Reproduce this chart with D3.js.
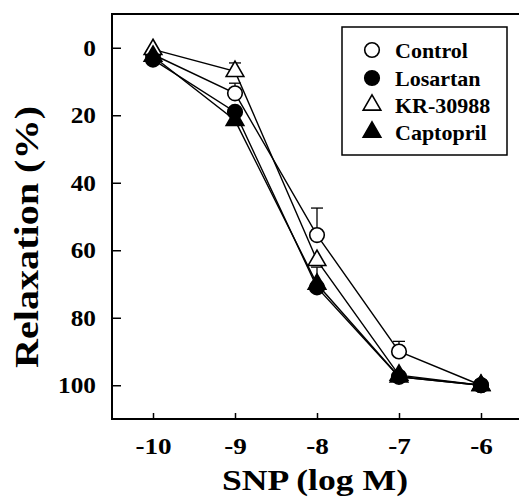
<!DOCTYPE html>
<html>
<head>
<meta charset="utf-8">
<script src="https://cdn.jsdelivr.net/npm/d3@7"></script>
<style>
  body { margin: 0; background: #fff; }
</style>
</head>
<body>
<div id="chart"></div>
<script>
// datos
const doses = [-10, -9, -8, -7, -6];
const xTicks = [-10, -9, -8, -7, -6];
const yTicks = [0, 20, 40, 60, 80, 100];

const controlVals = [2, 13.5, 55.5, 90, 100];
const controlErr = [0, 3, 8, 3, 0];
const losartanVals = [3.5, 19, 71, 97.5, 100];
const losartanErr = [0, 0, 6, 0, 0];
const krVals = [0.5, 7, 63, 97, 100];
const krErr = [0, 2.5, 0, 0, 0];
const captoprilVals = [2.5, 21.5, 70, 97.5, 100];
const captoprilErr = [0, 0, 0, 0, 0];

const seriesNames = ["Control", "Losartan", "KR-30988", "Captopril"];

const series = [
    { name: seriesNames[0], vals: controlVals, err: controlErr, shape: "circle", filled: false },
    { name: seriesNames[1], vals: losartanVals, err: losartanErr, shape: "circle", filled: true },
    { name: seriesNames[2], vals: krVals, err: krErr, shape: "triangle", filled: false },
    { name: seriesNames[3], vals: captoprilVals, err: captoprilErr, shape: "triangle", filled: true }
];

const FONT = "Liberation Serif";
const width = 519, height = 499;
const mLeft = 112, mTop = 14, mBottom = 419, mRight = 522;

const svg = d3.select("#chart").append("svg")
    .attr("width", width)
    .attr("height", height);

const x = d3.scaleLinear().domain([-10.5, -5.5]).range([mLeft, mRight]);
const y = d3.scaleLinear().domain([-10, 110]).range([mTop, mBottom]);

function estilo(sel, size) {
    sel.attr("font-family", FONT)
        .attr("font-weight", "bold")
        .attr("font-size", size)
        .attr("fill", "#000");
}

// estirar un texto a lo ancho (la figura original esta algo deformada)
function estirar(sel, k) {
    sel.each(function () {
        const w = this.getComputedTextLength();
        d3.select(this).attr("textLength", w * k).attr("lengthAdjust", "spacingAndGlyphs");
    });
}

// marco
svg.append("path")
    .attr("d", `M${width},${mTop}H${mLeft}V${mBottom}H${width}`)
    .attr("fill", "none")
    .attr("stroke", "#000")
    .attr("stroke-width", 2);

// ejes
const xAxis = d3.axisBottom(x).tickValues(xTicks).tickSize(-6).tickPadding(19)
    .tickFormat(d => d);
const gx = svg.append("g").attr("transform", `translate(0,${mBottom})`).call(xAxis);
gx.attr("font-family", FONT);
gx.select(".domain").remove();
gx.selectAll(".tick line").attr("stroke-width", 1.5);
gx.selectAll("text").call(estilo, 23).attr("dy", "0.71em").call(estirar, 1.18);

const yAxis = d3.axisLeft(y).tickValues(yTicks).tickSize(-9).tickPadding(16);
const gy = svg.append("g").attr("transform", `translate(${mLeft},0)`).call(yAxis);
gy.attr("font-family", FONT);
gy.select(".domain").remove();
gy.selectAll(".tick line").attr("stroke-width", 1.5);
gy.selectAll("text").call(estilo, 23).call(estirar, 1.1);

// titulos
svg.append("text")
    .attr("x", 315).attr("y", 490)
    .attr("text-anchor", "middle")
    .call(estilo, 30)
    .attr("textLength", 186).attr("lengthAdjust", "spacingAndGlyphs")
    .text("SNP (log M)");

svg.append("text")
    .attr("transform", `translate(38,237) rotate(-90)`)
    .attr("text-anchor", "middle")
    .call(estilo, 33)
    .attr("textLength", 262).attr("lengthAdjust", "spacingAndGlyphs")
    .text("Relaxation (%)");

const line = d3.line().x((d, i) => x(doses[i])).y(d => y(d));
const tri = d3.symbol().type(d3.symbolTriangle).size(135);

// barras de error (hacia arriba)
series.forEach(s => {
    s.vals.forEach((v, i) => {
        if (!s.err[i]) return;
        const g = svg.append("g").attr("stroke", "#000").attr("stroke-width", 1.3);
        g.append("line").attr("x1", x(doses[i])).attr("x2", x(doses[i]))
            .attr("y1", y(v)).attr("y2", y(v - s.err[i]));
        g.append("line").attr("x1", x(doses[i]) - 6).attr("x2", x(doses[i]) + 6)
            .attr("y1", y(v - s.err[i])).attr("y2", y(v - s.err[i]));
    });
});

series.forEach(s => {
    svg.append("path")
        .datum(s.vals)
        .attr("d", line)
        .attr("fill", "none")
        .attr("stroke", "#000")
        .attr("stroke-width", 1.4);
});

function drawMarker(g, s, cx, cy) {
    if (s.shape === "circle") {
        g.append("circle").attr("cx", cx).attr("cy", cy).attr("r", 7.3)
            .attr("fill", s.filled ? "#000" : "#fff")
            .attr("stroke", "#000").attr("stroke-width", 1.6);
    } else {
        g.append("path").attr("d", tri)
            .attr("transform", `translate(${cx},${cy})`)
            .attr("fill", s.filled ? "#000" : "#fff")
            .attr("stroke", "#000").attr("stroke-width", 1.6);
    }
}

// orden de dibujo: abiertos abajo
[series[0], series[2], series[1], series[3]].forEach(s => {
    const g = svg.append("g");
    s.vals.forEach((v, i) => drawMarker(g, s, x(doses[i]), y(v)));
});

// leyenda
const lg = svg.append("g");
lg.append("rect")
    .attr("x", 342).attr("y", 27).attr("width", 165).attr("height", 128)
    .attr("fill", "#fff").attr("stroke", "#000").attr("stroke-width", 1.5);
const legendY = [50, 78, 105, 132];
series.forEach((s, i) => {
    drawMarker(lg, s, 372, legendY[i]);
    lg.append("text")
        .attr("x", 395).attr("y", legendY[i])
        .attr("dy", "0.35em")
        .call(estilo, 22)
        .text(s.name);
});
</script>
</body>
</html>
